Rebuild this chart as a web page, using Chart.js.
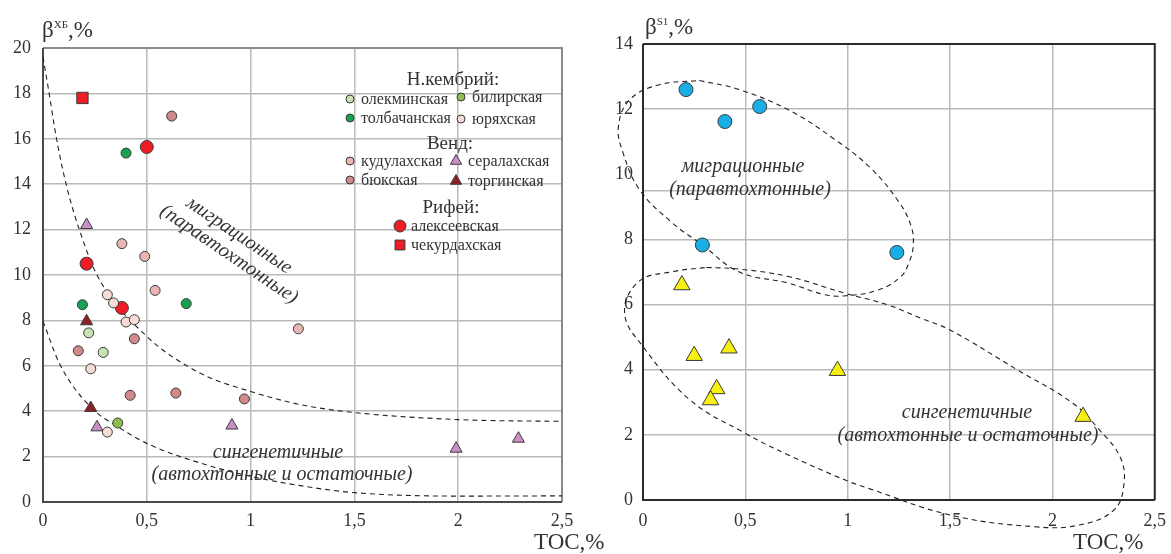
<!DOCTYPE html>
<html>
<head>
<meta charset="utf-8">
<script src="https://cdn.jsdelivr.net/npm/chart.js@4.4.1/dist/chart.umd.min.js"></script>
<style>
  body { margin: 0; width: 1171px; height: 554px; overflow: hidden; background: #fff; position: relative;
         font-family: "Liberation Serif", "DejaVu Serif", serif; color: #333; }
  .box { position: absolute; top: 0; height: 554px; }
  .lbl { position: absolute; white-space: nowrap; line-height: 1; }
  .ann { position: absolute; white-space: nowrap; font-style: italic; font-size: 20px; color: #333; line-height: 1;
         transform: translate(-50%, -50%); }
  sup { font-size: 11px; vertical-align: 9px; }
</style>
</head>
<body>
<div class="box" style="left:0;width:600px"><canvas id="left"></canvas></div>
<div class="box" style="left:580px;width:596px"><canvas id="right"></canvas></div>

<div class="lbl" style="left:42px;top:18px;font-size:23px">β<sup>ХБ</sup>,%</div>
<div class="lbl" style="left:534px;top:530px;font-size:23px">TOC,%</div>
<div class="lbl" style="left:645px;top:15px;font-size:23px">β<sup>S1</sup>,%</div>
<div class="lbl" style="left:1073px;top:530px;font-size:23px">TOC,%</div>

<div class="ann" style="left:240px;top:234px;transform:translate(-50%,-50%) rotate(34deg)">миграционные</div>
<div class="ann" style="left:230px;top:253px;transform:translate(-50%,-50%) rotate(34deg)">(паравтохтонные)</div>
<div class="ann" style="left:278px;top:451px">сингенетичные</div>
<div class="ann" style="left:282px;top:473px">(автохтонные и остаточные)</div>
<div class="ann" style="left:743px;top:165px">миграционные</div>
<div class="ann" style="left:750px;top:188px">(паравтохтонные)</div>
<div class="ann" style="left:967px;top:411px">сингенетичные</div>
<div class="ann" style="left:968px;top:434px">(автохтонные и остаточные)</div>

<script>
// left chart: beta XB vs TOC, points as [TOC, beta]
const olekma    = [[0.22, 7.45], [0.29, 6.59]];
const tolbachan = [[0.40, 15.37], [0.19, 8.69], [0.69, 8.74]];
const bilir     = [[0.36, 3.48]];
const yuryakh   = [[0.31, 9.13], [0.34, 8.77], [0.40, 7.93], [0.44, 8.03], [0.23, 5.87], [0.31, 3.08]];
const kudulakh  = [[0.38, 11.38], [0.49, 10.82], [0.54, 9.32], [1.23, 7.63]];
const byuk      = [[0.62, 17.0], [0.44, 7.19], [0.17, 6.66], [0.42, 4.70], [0.64, 4.80], [0.97, 4.54]];
const seralakh  = [[0.21, 12.2], [0.26, 3.29], [0.91, 3.37], [1.99, 2.35], [2.29, 2.79]];
const torgin    = [[0.21, 7.96], [0.23, 4.14]];
const alekseev  = [[0.50, 15.64], [0.21, 10.5], [0.38, 8.55]];
const chekurdakh = [[0.19, 17.8]];

// boundary curves
const upperCurve = [[0, 19.6], [0.026, 18.2], [0.066, 15.96], [0.114, 13.9], [0.18, 11.86], [0.26, 10.0],
                    [0.49, 7.38], [0.756, 5.68], [1.0, 4.87], [1.24, 4.29], [1.49, 3.95], [2.0, 3.63], [2.5, 3.55]];
const lowerCurve = [[0, 7.96], [0.082, 6.05], [0.226, 4.21], [0.37, 3.26], [0.515, 2.52], [0.756, 1.72],
                    [1.0, 1.13], [1.24, 0.72], [1.49, 0.42], [2.0, 0.26], [2.5, 0.27]];

// right chart: beta S1 vs TOC
const migrPoints = [[0.21, 12.6], [0.40, 11.62], [0.57, 12.08], [0.29, 7.83], [1.24, 7.6]];
const syngPoints = [[0.19, 6.6], [0.25, 4.43], [0.42, 4.66], [0.36, 3.41], [0.33, 3.07], [0.95, 3.97], [2.15, 2.56]];

const migrEllipse = [[0.275, 12.88], [0.47, 12.6], [0.71, 11.98], [0.93, 11.1], [1.11, 10.2], [1.25, 9.15],
                     [1.31, 8.4], [1.32, 7.8], [1.30, 7.3], [1.26, 6.86], [1.15, 6.45], [0.99, 6.27], [0.89, 6.3],
                     [0.71, 6.66], [0.47, 7.0], [0.29, 7.83], [0.145, 8.5], [-0.016, 9.52], [-0.097, 10.65],
                     [-0.12, 11.47], [-0.065, 12.29], [0.08, 12.75], [0.275, 12.88]];
const syngEllipse = [[0.31, 7.14], [0.47, 7.09], [0.71, 6.86], [0.986, 6.35], [1.196, 5.99], [1.357, 5.58],
                     [1.50, 5.22], [1.83, 3.99], [2.10, 2.97], [2.23, 2.15], [2.33, 1.33], [2.35, 0.51],
                     [2.30, -0.31], [2.13, -0.77], [1.91, -0.82], [1.50, -0.46], [1.1, 0.36], [1.0, 0.58],
                     [0.71, 1.38], [0.49, 2.08], [0.23, 3.07], [0, 4.71], [-0.09, 5.74], [-0.02, 6.71],
                     [0.145, 7.01], [0.31, 7.14]];

const xTicks = [0, 0.5, 1, 1.5, 2, 2.5];
const leftYTicks = [0, 2, 4, 6, 8, 10, 12, 14, 16, 18, 20];
const rightYTicks = [0, 2, 4, 6, 8, 10, 12, 14];
// in the original the grid line under "10" sits at 9.5
const rightShiftedGrid = 9.5;

const pts = a => a.map(([x, y]) => ({x, y}));
const comma = v => String(v).replace('.', ',');
const tickFont = {family: '"Liberation Serif", serif', size: 18};
const gridColor = '#b9b9b9';

function pointSet(label, data, color, style, r) {
  return {label, data: pts(data), backgroundColor: color, borderColor: '#3a3a3a', borderWidth: 1,
          pointStyle: style, pointRadius: r, pointHoverRadius: r, order: 0};
}
function curve(data, monotone) {
  return {label: '', data: pts(data), showLine: true, borderColor: '#222', borderWidth: 1.1,
          borderDash: [5, 4], pointRadius: 0, pointHoverRadius: 0, fill: false, clip: false, order: 10,
          tension: 0.4, cubicInterpolationMode: monotone ? 'monotone' : 'default'};
}

const frame = {
  id: 'frame',
  beforeDatasetsDraw(chart, args, o) {
    const {ctx, chartArea: a} = chart;
    ctx.save();
    ctx.lineWidth = o.width;
    ctx.strokeStyle = o.side;
    ctx.beginPath(); ctx.moveTo(a.left, a.top); ctx.lineTo(a.right, a.top); ctx.lineTo(a.right, a.bottom); ctx.stroke();
    ctx.strokeStyle = o.axis;
    ctx.beginPath(); ctx.moveTo(a.left, a.top); ctx.lineTo(a.left, a.bottom); ctx.lineTo(a.right, a.bottom); ctx.stroke();
    ctx.restore();
  }
};

function marker(ctx, style, x, y, r) {
  ctx.beginPath();
  if (style === 'triangle') {
    ctx.moveTo(x, y - r); ctx.lineTo(x + r * 0.866, y + r * 0.5); ctx.lineTo(x - r * 0.866, y + r * 0.5); ctx.closePath();
  } else if (style === 'rect') {
    const s = r * Math.SQRT1_2; ctx.rect(x - s, y - s, 2 * s, 2 * s);
  } else {
    ctx.arc(x, y, r, 0, Math.PI * 2);
  }
  ctx.fill(); ctx.stroke();
}

// legend layout inside the left plot
const legendItems = [
  {head: 'Н.кембрий:', x: 453, y: 80},
  {label: 'олекминская', x: 350, y: 99, r: 4}, {label: 'билирская', x: 461, y: 97, r: 4},
  {label: 'толбачанская', x: 350, y: 118, r: 4}, {label: 'юряхская', x: 461, y: 119, r: 4},
  {head: 'Венд:', x: 450, y: 144},
  {label: 'кудулахская', x: 350, y: 161, r: 4}, {label: 'сералахская', x: 456, y: 161, r: 6.5},
  {label: 'бюкская', x: 350, y: 180, r: 4}, {label: 'торгинская', x: 456, y: 181, r: 6.5},
  {head: 'Рифей:', x: 451, y: 208},
  {label: 'алексеевская', x: 400, y: 226, r: 6}, {label: 'чекурдахская', x: 400, y: 245, r: 7}
];

const legendBox = {
  id: 'legendBox',
  afterDatasetsDraw(chart) {
    const ctx = chart.ctx;
    ctx.save();
    ctx.textBaseline = 'middle';
    legendItems.forEach(it => {
      if (it.head) {
        ctx.font = '19px "Liberation Serif", serif';
        ctx.fillStyle = '#333';
        ctx.textAlign = 'center';
        ctx.fillText(it.head, it.x, it.y);
        return;
      }
      const ds = chart.data.datasets.find(d => d.label === it.label);
      ctx.fillStyle = ds.backgroundColor;
      ctx.strokeStyle = '#3a3a3a';
      ctx.lineWidth = 1;
      marker(ctx, ds.pointStyle, it.x, it.y, it.r);
      ctx.font = '16px "Liberation Serif", serif';
      ctx.fillStyle = '#333';
      ctx.textAlign = 'left';
      ctx.fillText(it.label, it.x + (ds.pointStyle === 'triangle' ? 12 : 11), it.y + 1);
    });
    ctx.restore();
  }
};

function scales(yMax, yTicks, yWidth, yPad, xPad, extraGrid) {
  const yTickValues = extraGrid === undefined ? yTicks : yTicks.concat([extraGrid]).sort((a, b) => a - b);
  return {
    x: {type: 'linear', min: 0, max: 2.5,
        afterBuildTicks: s => { s.ticks = xTicks.map(v => ({value: v})); },
        afterFit: s => { s.height = 40; },
        grid: {color: gridColor, lineWidth: 1.5, drawTicks: false},
        border: {display: false},
        ticks: {font: tickFont, color: '#333', padding: xPad, maxRotation: 0, callback: comma}},
    y: {type: 'linear', min: 0, max: yMax,
        afterBuildTicks: s => { s.ticks = yTickValues.map(v => ({value: v})); },
        afterFit: s => { s.width = yWidth; },
        grid: {lineWidth: 1.5, drawTicks: false,
               color: c => (extraGrid !== undefined && c.tick && c.tick.value === 10) ? 'rgba(0,0,0,0)' : gridColor},
        border: {display: false},
        ticks: {font: tickFont, color: '#333', padding: yPad,
                callback: v => (v === extraGrid ? '' : comma(v))}}
  };
}

new Chart(document.getElementById('left'), {
  type: 'scatter',
  data: {datasets: [
    pointSet('олекминская', olekma, '#c9e2b3', 'circle', 5),
    pointSet('толбачанская', tolbachan, '#16a24f', 'circle', 5),
    pointSet('билирская', bilir, '#8dbf4e', 'circle', 5),
    pointSet('юряхская', yuryakh, '#f6dcd8', 'circle', 5),
    pointSet('кудулахская', kudulakh, '#e9b5b3', 'circle', 5),
    pointSet('бюкская', byuk, '#d18a8a', 'circle', 5),
    pointSet('сералахская', seralakh, '#c98fc6', 'triangle', 7),
    pointSet('торгинская', torgin, '#8e2125', 'triangle', 7),
    pointSet('алексеевская', alekseev, '#ee1c25', 'circle', 6.5),
    pointSet('чекурдахская', chekurdakh, '#ee1c25', 'rect', 8),
    curve(upperCurve, true),
    curve(lowerCurve, true)
  ]},
  options: {
    responsive: true, maintainAspectRatio: false, animation: false,
    layout: {padding: {left: 0, top: 48, right: 38, bottom: 12}},
    plugins: {legend: {display: false}, tooltip: {enabled: false},
              frame: {axis: '#4a4a4a', side: '#8a8a8a', width: 2}},
    scales: scales(20, leftYTicks, 43, 12, 8)
  },
  plugins: [frame, legendBox]
});

new Chart(document.getElementById('right'), {
  type: 'scatter',
  data: {datasets: [
    pointSet('миграционные', migrPoints, '#19aee6', 'circle', 7),
    pointSet('сингенетичные', syngPoints, '#f7ef10', 'triangle', 9.5),
    curve(migrEllipse, false),
    curve(syngEllipse, false)
  ]},
  options: {
    responsive: true, maintainAspectRatio: false, animation: false,
    layout: {padding: {left: 0, top: 44, right: 17, bottom: 14}},
    plugins: {legend: {display: false}, tooltip: {enabled: false},
              frame: {axis: '#2a2a2a', side: '#2a2a2a', width: 2}},
    scales: scales(14, rightYTicks, 63, 10, 10, rightShiftedGrid)
  },
  plugins: [frame]
});
</script>
</body>
</html>
